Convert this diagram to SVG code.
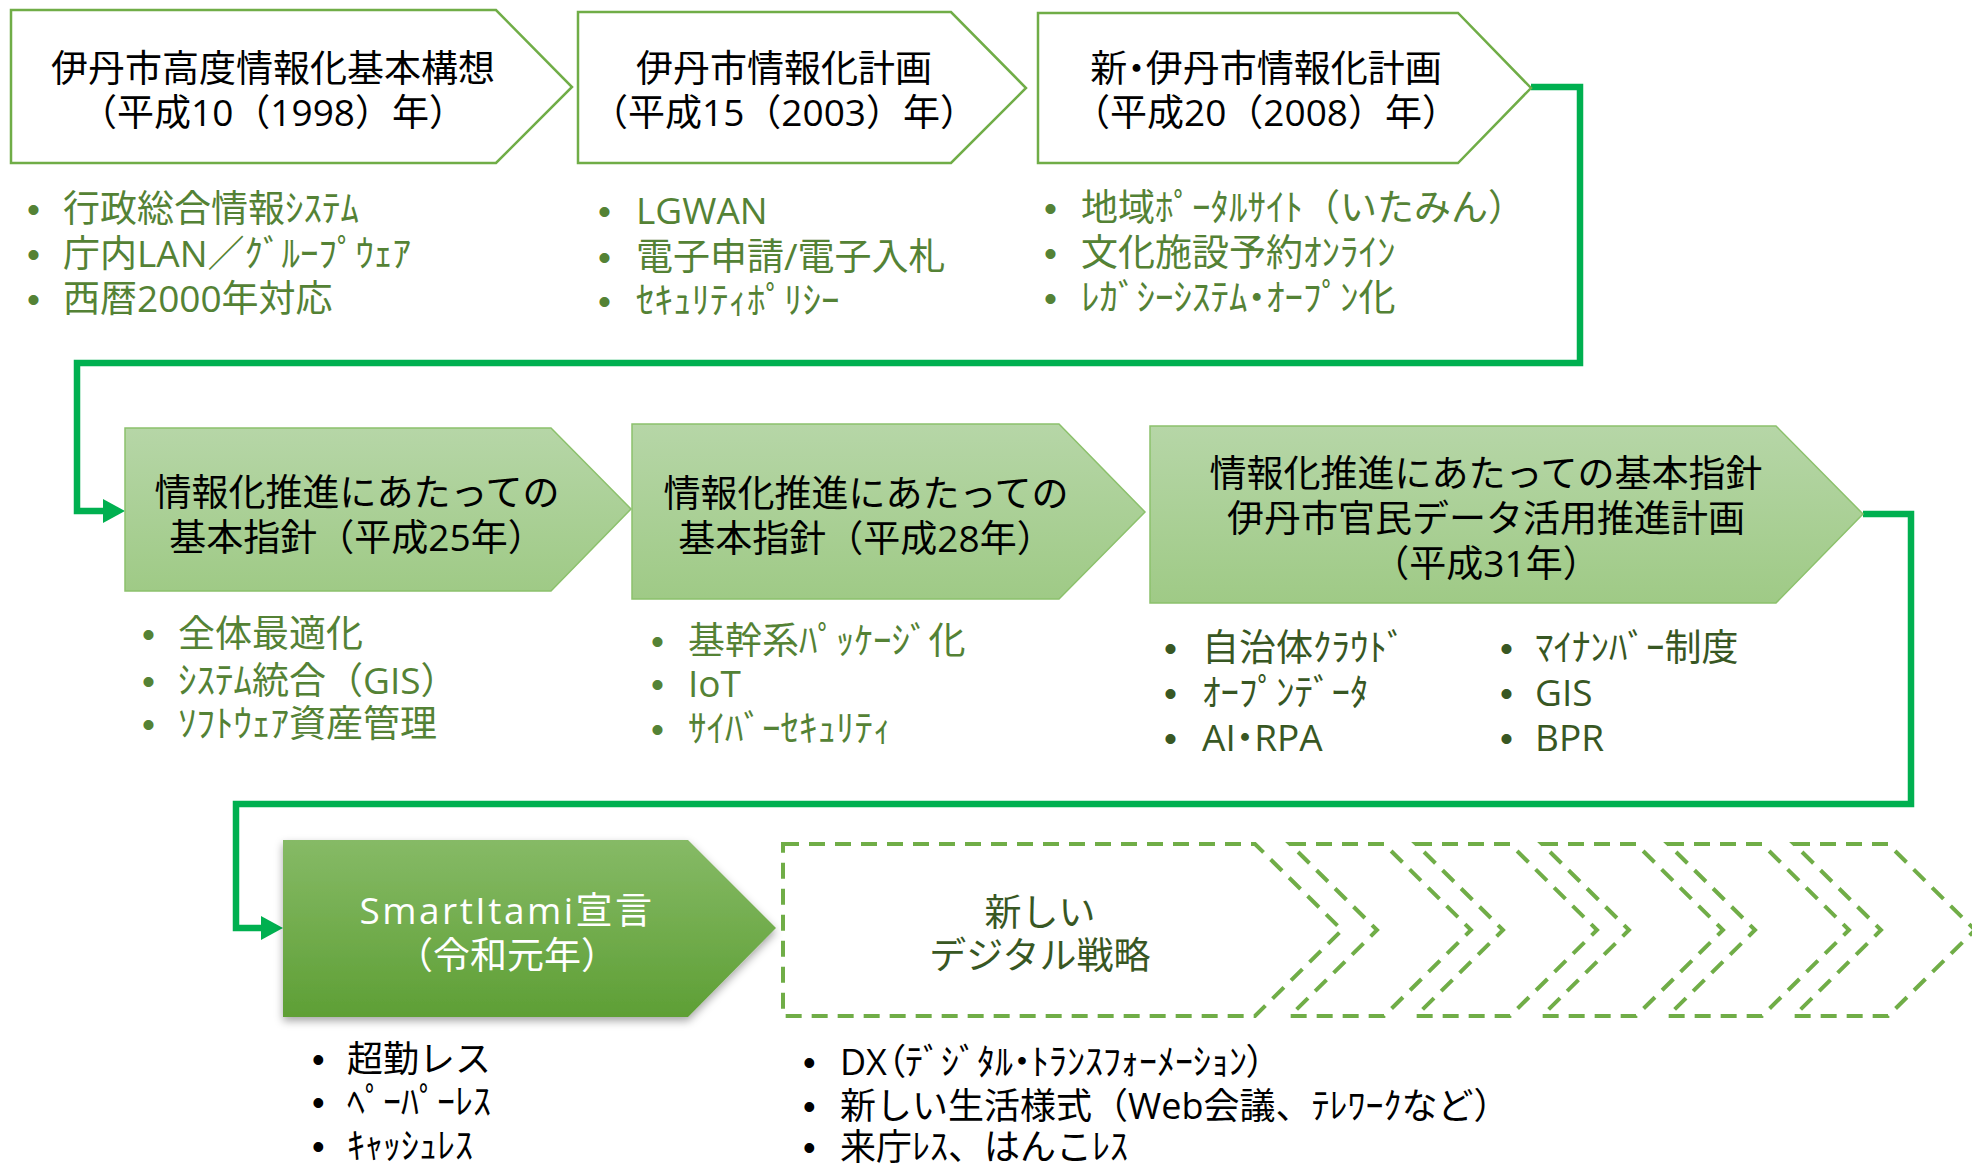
<svg xmlns="http://www.w3.org/2000/svg" width="1972" height="1168" viewBox="0 0 1972 1168">
<style>
text{font-family:"Open Sans","Noto Sans CJK JP",sans-serif}
.t{font-size:37px;fill:#000;text-anchor:middle}
.tw{font-size:37px;fill:#fff;text-anchor:middle}
.td{font-size:37px;fill:#385723;text-anchor:middle}
.b{font-size:37px;fill:#548235}
.bd{font-size:37px;fill:#385723}
.bk{font-size:36px;fill:#000}
.p{font-feature-settings:"palt"}
.dot{font-family:"Liberation Sans",Arial,sans-serif}
.o1{fill:#fff;stroke:#70AD47;stroke-width:2.5}
.o2{fill:url(#g2);stroke:#8CC16C;stroke-width:1.5}
.o3{fill:url(#g3);filter:url(#sh)}
.ds{fill:none;stroke:#70AD47;stroke-width:4;stroke-dasharray:16 10}
.cn{fill:none;stroke:#00B050;stroke-width:6.5}
</style>
<defs>
<linearGradient id="g2" x1="0" y1="0" x2="0" y2="1"><stop offset="0" stop-color="#B6D6A7"/><stop offset="1" stop-color="#9FCA86"/></linearGradient>
<linearGradient id="g3" x1="0" y1="0" x2="0" y2="1"><stop offset="0" stop-color="#86BA66"/><stop offset="1" stop-color="#5E9F35"/></linearGradient>
<filter id="sh" x="-5%" y="-5%" width="110%" height="120%"><feDropShadow dx="0" dy="4" stdDeviation="4" flood-color="#000" flood-opacity="0.35"/></filter>
<marker id="ah" markerUnits="userSpaceOnUse" markerWidth="22" markerHeight="24" viewBox="0 0 22 24" refX="4" refY="12" orient="auto"><path d="M0,0 L22,12 L0,24 Z" fill="#00B050"/></marker>
</defs>

<g id="connectors">
<path class="cn" d="M1531,87 H1580 V363 H77 V511 H107" marker-end="url(#ah)"/>
<path class="cn" d="M1863,514 H1911 V804 H236 V928 H265" marker-end="url(#ah)"/>
</g>

<g id="node-1998">
<polygon class="o1" points="11,10 496,10 572,87 496,163 11,163"/>
<text class="t" x="273" y="82">伊丹市高度情報化基本構想</text>
<text class="t" x="273" y="126">（平成10（1998）年）</text>
<text class="b dot" x="27" y="222">•</text><text class="b" x="63" y="222">行政総合情報ｼｽﾃﾑ</text>
<text class="b dot" x="27" y="267">•</text><text class="b" x="63" y="267">庁内LAN／ｸﾞﾙｰﾌﾟｳｪｱ</text>
<text class="b dot" x="27" y="312">•</text><text class="b" x="63" y="312">西暦2000年対応</text>
</g>

<g id="node-2003">
<polygon class="o1" points="578,12 951,12 1026,88 951,163 578,163"/>
<text class="t" x="784" y="82">伊丹市情報化計画</text>
<text class="t" x="784" y="126">（平成15（2003）年）</text>
<text class="b dot" x="598" y="224">•</text><text class="b" x="636" y="224">LGWAN</text>
<text class="b dot" x="598" y="270">•</text><text class="b" x="636" y="270">電子申請/電子入札</text>
<text class="b dot" x="598" y="314">•</text><text class="b" x="636" y="314">ｾｷｭﾘﾃｨﾎﾟﾘｼｰ</text>
</g>

<g id="node-2008">
<polygon class="o1" points="1038,13 1458,13 1531,88 1458,163 1038,163"/>
<text class="t p" x="1266" y="82">新・伊丹市情報化計画</text>
<text class="t" x="1266" y="126">（平成20（2008）年）</text>
<text class="b dot" x="1044" y="221">•</text><text class="b" x="1081" y="221">地域ﾎﾟｰﾀﾙｻｲﾄ（いたみん）</text>
<text class="b dot" x="1044" y="266">•</text><text class="b" x="1081" y="266">文化施設予約ｵﾝﾗｲﾝ</text>
<text class="b dot" x="1044" y="311">•</text><text class="b p" x="1081" y="311">ﾚｶﾞｼｰｼｽﾃﾑ・ｵｰﾌﾟﾝ化</text>
</g>

<g id="node-h25">
<polygon class="o2" points="125,428 551,428 631,509 551,591 125,591"/>
<text class="t" x="357" y="506">情報化推進にあたっての</text>
<text class="t" x="357" y="551">基本指針（平成25年）</text>
<text class="b dot" x="142" y="647">•</text><text class="b" x="178" y="647">全体最適化</text>
<text class="b dot" x="142" y="694">•</text><text class="b" x="178" y="694">ｼｽﾃﾑ統合（GIS）</text>
<text class="b dot" x="142" y="737">•</text><text class="b" x="178" y="737">ｿﾌﾄｳｪｱ資産管理</text>
</g>

<g id="node-h28">
<polygon class="o2" points="632,424 1059,424 1145,512 1059,599 632,599"/>
<text class="t" x="866" y="507">情報化推進にあたっての</text>
<text class="t" x="866" y="552">基本指針（平成28年）</text>
<text class="b dot" x="651" y="654">•</text><text class="b" x="688" y="654">基幹系ﾊﾟｯｹｰｼﾞ化</text>
<text class="b dot" x="651" y="697">•</text><text class="b" x="688" y="697">IoT</text>
<text class="b dot" x="651" y="742">•</text><text class="b" x="688" y="742">ｻｲﾊﾞｰｾｷｭﾘﾃｨ</text>
</g>

<g id="node-h31">
<polygon class="o2" points="1150,426 1776,426 1863,514 1776,603 1150,603"/>
<text class="t" x="1486" y="487">情報化推進にあたっての基本指針</text>
<text class="t" x="1486" y="532">伊丹市官民データ活用推進計画</text>
<text class="t" x="1486" y="577">（平成31年）</text>
<text class="bd dot" x="1164" y="661">•</text><text class="bd" x="1202" y="661">自治体ｸﾗｳﾄﾞ</text>
<text class="bd dot" x="1164" y="706">•</text><text class="bd" x="1202" y="706">ｵｰﾌﾟﾝﾃﾞｰﾀ</text>
<text class="bd dot" x="1164" y="751">•</text><text class="bd p" x="1202" y="751">AI・RPA</text>
<text class="bd dot" x="1500" y="661">•</text><text class="bd" x="1535" y="661">ﾏｲﾅﾝﾊﾞｰ制度</text>
<text class="bd dot" x="1500" y="706">•</text><text class="bd" x="1535" y="706">GIS</text>
<text class="bd dot" x="1500" y="751">•</text><text class="bd" x="1535" y="751">BPR</text>
</g>

<g id="node-smartitami">
<polygon class="o3" points="283,840 688,840 776,928 688,1017 283,1017"/>
<text class="tw" x="507" y="924" letter-spacing="2.5">SmartItami宣言</text>
<text class="tw" x="507" y="969">（令和元年）</text>
<text class="bk dot" x="312" y="1072">•</text><text class="bk" x="347" y="1072">超勤レス</text>
<text class="bk dot" x="312" y="1115">•</text><text class="bk" x="347" y="1115">ﾍﾟｰﾊﾟｰﾚｽ</text>
<text class="bk dot" x="312" y="1159">•</text><text class="bk" x="347" y="1159">ｷｬｯｼｭﾚｽ</text>
</g>

<g id="node-digital">
<path class="ds" d="M783,844 H1255 L1342,930 L1255,1016 H783 Z"/>
<path class="ds" d="M1290,844 H1384 L1471,930 L1384,1016 H1290 L1377,930 Z"/>
<path class="ds" d="M1416,844 H1510 L1597,930 L1510,1016 H1416 L1503,930 Z"/>
<path class="ds" d="M1542,844 H1636 L1723,930 L1636,1016 H1542 L1629,930 Z"/>
<path class="ds" d="M1668,844 H1762 L1849,930 L1762,1016 H1668 L1755,930 Z"/>
<path class="ds" d="M1794,844 H1888 L1975,930 L1888,1016 H1794 L1881,930 Z"/>
<text class="td" x="1040" y="926">新しい</text>
<text class="td" x="1040" y="969">デジタル戦略</text>
<text class="bk dot" x="803" y="1075">•</text><text class="bk p" x="840" y="1075">DX（ﾃﾞｼﾞﾀﾙ・ﾄﾗﾝｽﾌｫｰﾒｰｼｮﾝ）</text>
<text class="bk dot" x="803" y="1119">•</text><text class="bk" x="840" y="1119">新しい生活様式（Web会議、ﾃﾚﾜｰｸなど）</text>
<text class="bk dot" x="803" y="1160">•</text><text class="bk" x="840" y="1160">来庁ﾚｽ、はんこﾚｽ</text>
</g>
</svg>
